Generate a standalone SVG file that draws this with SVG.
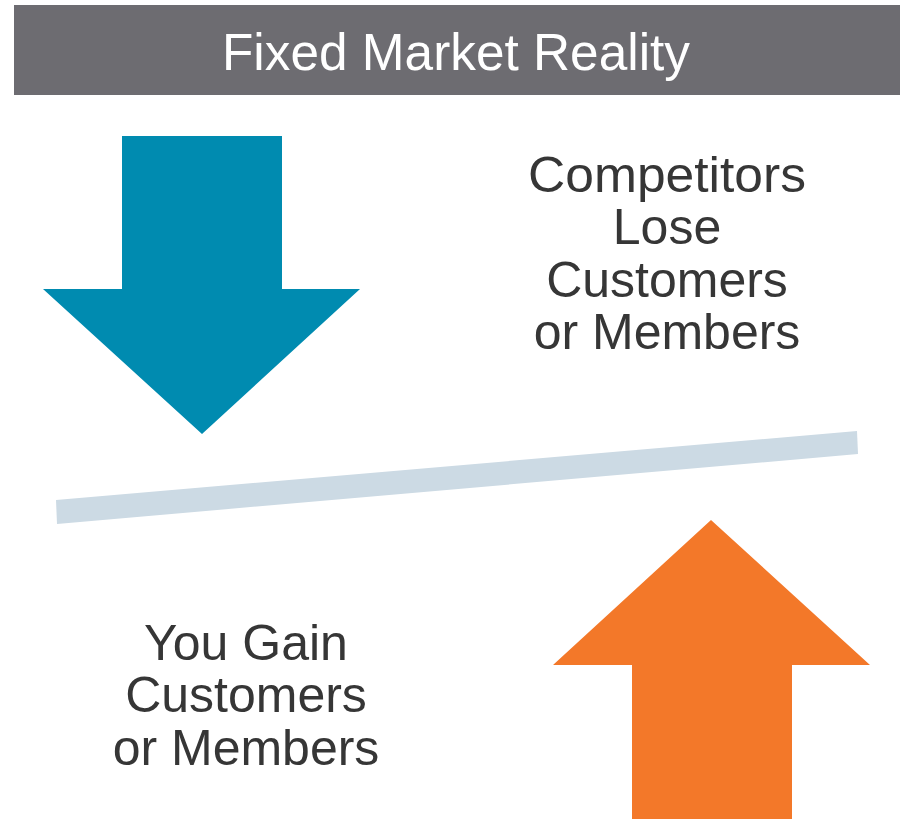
<svg xmlns="http://www.w3.org/2000/svg" width="904" height="819" viewBox="0 0 904 819">
<style>
.lbl{font-family:"Liberation Sans","DejaVu Sans",sans-serif;font-size:50px;fill:#363636;text-anchor:middle}
.title{font-family:"Liberation Sans","DejaVu Sans",sans-serif;font-size:52px;fill:#ffffff;text-anchor:middle}
</style>
<rect width="904" height="819" fill="#ffffff"/>
<g id="title">
<rect x="14" y="5" width="886" height="90" fill="#6d6c71"/>
<text class="title" x="456" y="70" textLength="468" lengthAdjust="spacingAndGlyphs">Fixed Market Reality</text>
</g>
<g id="down-arrow">
<polygon points="122,136 282,136 282,289 360,289 202,434 43,289 122,289" fill="#008bb0"/>
</g>
<g id="up-arrow">
<polygon points="632,819 792,819 792,665 870,665 711,520 553,665 632,665" fill="#f37829"/>
</g>
<g id="balance-bar">
<polygon points="56,500 857,431 858,454 57,524" fill="#ccdae4"/>
</g>
<g id="competitors-text">
<text class="lbl" x="667" y="192" textLength="278" lengthAdjust="spacingAndGlyphs">Competitors</text>
<text class="lbl" x="667" y="244">Lose</text>
<text class="lbl" x="667" y="297">Customers</text>
<text class="lbl" x="667" y="349">or Members</text>
</g>
<g id="you-text">
<text class="lbl" x="246" y="660">You Gain</text>
<text class="lbl" x="246" y="712">Customers</text>
<text class="lbl" x="246" y="765">or Members</text>
</g>
<g id="connectors"></g>
</svg>
